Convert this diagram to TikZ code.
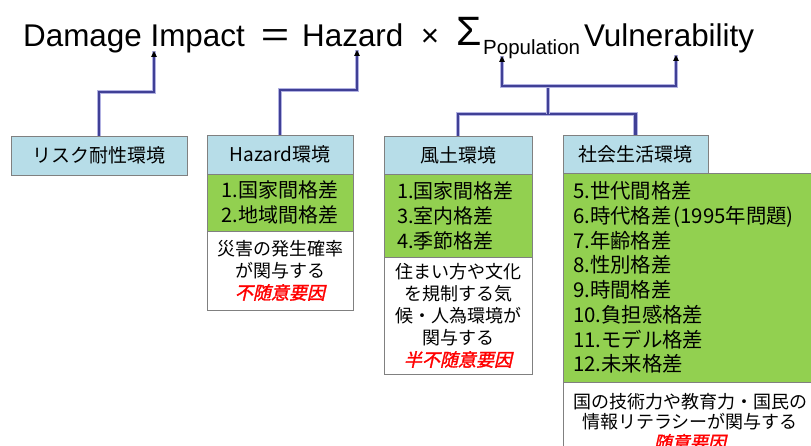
\documentclass[tikz,border=0pt]{standalone}
\usepackage{fontspec}
\setmainfont{Liberation Sans}
\newfontfamily\cjk{Noto Sans CJK JP}
\newfontfamily\cjkred[FakeSlant=0.22,FakeBold=1.5]{Noto Sans CJK JP}
\usetikzlibrary{arrows.meta}
\definecolor{hdrfill}{RGB}{183,221,232}
\definecolor{grnfill}{RGB}{146,208,80}
\definecolor{bordercol}{RGB}{128,128,128}
\definecolor{linecol}{RGB}{64,64,150}
\definecolor{glowcol}{RGB}{178,178,226}
\definecolor{redtxt}{RGB}{255,0,0}
\newcommand{\redtext}[1]{{\cjkred\color{redtxt}#1}}
\begin{document}
\begin{tikzpicture}[x=1pt,y=-1pt,
 box/.style={draw=bordercol,line width=0.9pt,anchor=north west,inner sep=0pt,outer sep=0pt},
 hdr/.style={box,fill=hdrfill,font=\cjk\fontsize{19}{23}\selectfont},
 grn/.style={box,fill=grnfill,font=\cjk\fontsize{20}{25}\selectfont},
 wht/.style={box,fill=white,align=center,font=\cjk\fontsize{18}{22}\selectfont},
 ttl/.style={anchor=base west,inner sep=0pt,font=\fontsize{31.4}{36}\selectfont},
 conn/.style={draw=linecol,line width=2.2pt,preaction={draw=glowcol,line width=4.8pt,-}},
 tip/.style={-{Triangle[length=6pt,width=5.5pt,color=black]}}
]
\useasboundingbox (0,0) rectangle (811,446);
\clip (0,0) rectangle (811,446);

% title
\node[ttl] (dmg) at (23,47) {Damage Impact};
\node[anchor=base,inner sep=0pt,font=\fontsize{31.4}{36}\selectfont] (eq) at (275,47) {\scalebox{1.55}[1.1]{=}};
\node[ttl] (hz) at (302,47) {Hazard};
\node[anchor=base,inner sep=0pt,font=\fontsize{31.4}{36}\selectfont] (tm) at (430,47) {×};
\node[anchor=base west,inner sep=0pt,font=\fontsize{41}{46}\selectfont] (sg) at (456,46) {Σ};
\node[anchor=base west,inner sep=0pt,font=\fontsize{20.5}{24}\selectfont] (pop) at (483,55) {Population};
\node[ttl] (vul) at (584,47) {Vulnerability};

% boxes
\node[hdr,minimum width=176,minimum height=39] (h1) at (11,136) {リスク耐性環境};

\node[hdr,minimum width=146,minimum height=39] (h2) at (207,135) {Hazard環境};
\node[grn,minimum width=146,minimum height=57,align=center] (g2) at (207,174) {1.国家間格差\\2.地域間格差};
\node[wht,minimum width=146,minimum height=79] (w2) at (207,231) {災害の発生確率\\が関与する\\\redtext{不随意要因}};

\node[hdr,minimum width=148,minimum height=38] (h3) at (384,136) {風土環境};
\node[grn,minimum width=148,minimum height=83,text width=122,align=left] (g3) at (384,174) {1.国家間格差\\3.室内格差\\4.季節格差};
\node[wht,minimum width=148,minimum height=117] (w3) at (384,257) {住まい方や文化\\を規制する気\\候・人為環境が\\関与する\\\redtext{半不随意要因}};

\node[hdr,minimum width=145,minimum height=38] (h4) at (563,135) {社会生活環境};
\node[grn,minimum width=254,minimum height=209,text width=234,align=left,font=\cjk\fontsize{20.4}{24.7}\selectfont] (g4) at (563,173) {5.世代間格差\\6.時代格差\kern2pt(1995年問題)\\7.年齢格差\\8.性別格差\\9.時間格差\\10.負担感格差\\11.モデル格差\\12.未来格差};
\node[wht,minimum width=254,minimum height=80,font=\cjk\fontsize{18}{20.3}\selectfont] (w4) at (563,382) {国の技術力や教育力・国民の\\情報リテラシーが関与する\\\redtext{随意要因}};

% connectors
\coordinate (t1) at (154,51);
\coordinate (t2) at (357,50);
\coordinate (t3) at (502,56);
\coordinate (t4) at (676,55);
\coordinate (j1) at (548,114);
\coordinate (j2) at (548,86);
\draw[conn,tip] (h1.north) |- (t1 |- 0,92) -- (t1);
\draw[conn,tip] (h2.north) |- (t2 |- 0,90) -- (t2);
\draw[conn] (h3.north) |- (j1) -| (h4.north);
\draw[conn] (j1) -- (j2);
\draw[conn,tip] (j2) -| (t3);
\draw[conn,tip] (j2) -| (t4);
\end{tikzpicture}
\end{document}
